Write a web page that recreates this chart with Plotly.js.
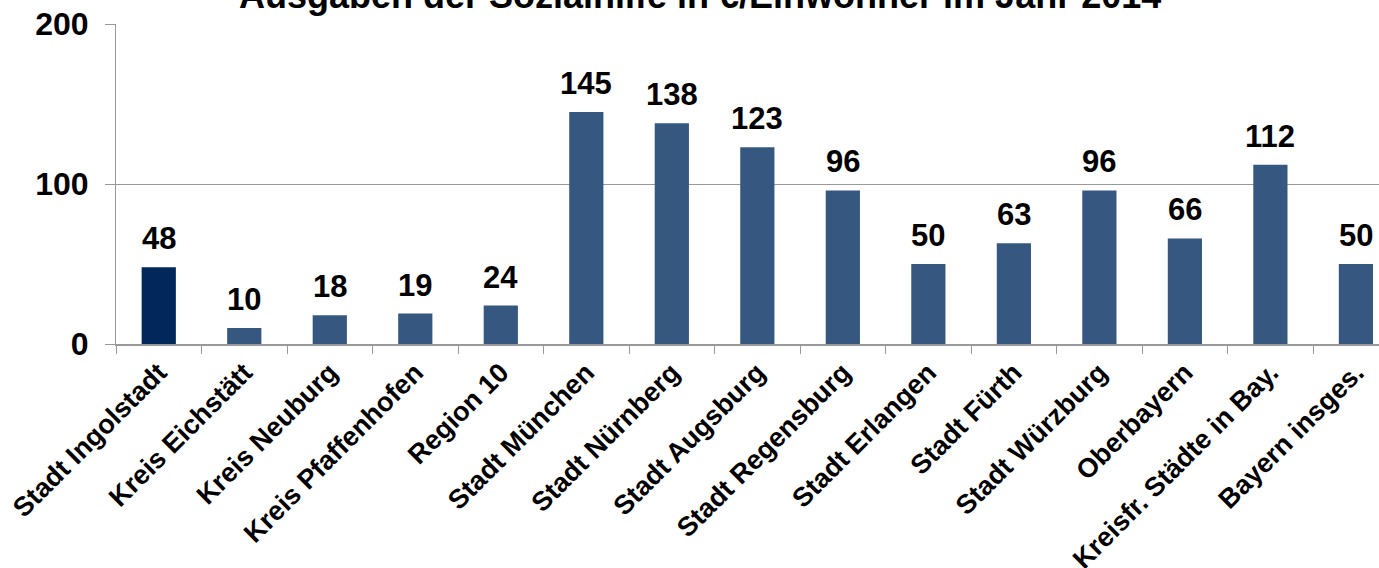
<!DOCTYPE html>
<html>
<head>
<meta charset="utf-8">
<script src="https://cdn.plot.ly/plotly-3.0.1.min.js"></script>
<style>
  html, body { margin: 0; padding: 0; background: #fff; }
  #chart { width: 1379px; height: 568px; }
</style>
</head>
<body>
<div id="chart"></div>
<script>
var regions = [
    'Stadt Ingolstadt', 'Kreis Eichstätt', 'Kreis Neuburg', 'Kreis Pfaffenhofen',
    'Region 10', 'Stadt München', 'Stadt Nürnberg', 'Stadt Augsburg',
    'Stadt Regensburg', 'Stadt Erlangen', 'Stadt Fürth', 'Stadt Würzburg',
    'Oberbayern', 'Kreisfr. Städte in Bay.', 'Bayern insges.'
];
var ausgaben = [48, 10, 18, 19, 24, 145, 138, 123, 96, 50, 63, 96, 66, 112, 50];
var chartTitle = 'Ausgaben der Sozialhilfe in €/Einwohner im Jahr 2014';

var barColors = regions.map(function (r, i) {
    return i === 0 ? '#02275a' : '#36577f';
});

var font = 'Liberation Sans, Arial, sans-serif';

var labels = regions.map(function (r, i) {
    return {
        x: r,
        y: ausgaben[i],
        text: '<b>' + ausgaben[i] + '</b>',
        showarrow: false,
        yanchor: 'bottom',
        yshift: 9,
        font: { family: font, size: 31, color: '#000' }
    };
});

// title is partly cut off at the top edge, as in the original
labels.push({
    xref: 'paper',
    yref: 'paper',
    x: 0.462,
    y: 1,
    yshift: 6,
    yanchor: 'bottom',
    showarrow: false,
    text: '<b>' + chartTitle + '</b>',
    font: { family: font, size: 36, color: '#000' }
});

var data = [{
    type: 'bar',
    x: regions,
    y: ausgaben,
    width: 0.4,
    marker: { color: barColors },
    hoverinfo: 'x+y'
}];

var layout = {
    width: 1379,
    height: 568,
    margin: { l: 116, r: 0, t: 24, b: 224 },
    paper_bgcolor: '#fff',
    plot_bgcolor: '#fff',
    showlegend: false,
    xaxis: {
        type: 'category',
        range: [-0.5, 14.27],
        tickangle: -45,
        tickson: 'boundaries',
        ticks: 'outside',
        ticklen: 8,
        tickcolor: '#999',
        showline: true,
        linecolor: '#999',
        linewidth: 2,
        showgrid: false,
        tickfont: { family: font, size: 27, color: '#000', weight: 'bold' }
    },
    yaxis: {
        range: [0, 200],
        dtick: 100,
        ticks: 'outside',
        ticklen: 10,
        tickcolor: '#999',
        ticklabelstandoff: 10,
        showline: true,
        linecolor: '#999',
        linewidth: 1,
        showgrid: true,
        gridcolor: '#999',
        gridwidth: 1,
        zeroline: false,
        tickfont: { family: font, size: 32, color: '#000', weight: 'bold' }
    },
    annotations: labels
};

Plotly.newPlot('chart', data, layout, { displayModeBar: false, staticPlot: true });
</script>
</body>
</html>
